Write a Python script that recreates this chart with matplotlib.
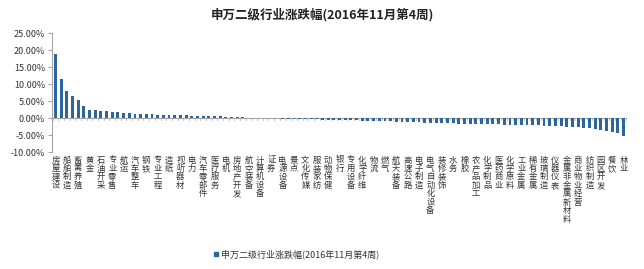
import matplotlib
matplotlib.use("Agg")
import matplotlib.pyplot as plt
from matplotlib.ticker import FuncFormatter
import numpy as np

plt.rcParams['font.family'] = ['Noto Sans CJK SC', 'DejaVu Sans']

title = "申万二级行业涨跌幅(2016年11月第4周)"

# labelled industries (every other bar carries a label)
labels = [
    "房屋建设", "船舶制造", "畜禽养殖", "黄金", "石油开采", "专业零售", "航运",
    "汽车整车", "钢铁", "专业工程", "造纸", "视听器材", "电力", "汽车零部件",
    "医疗服务", "电机", "房地产开发", "航空装备", "计算机设备", "证券",
    "电源设备", "景点", "文化传媒", "服装家纺", "动物保健", "银行", "专用设备",
    "化学纤维", "物流", "燃气", "航天装备", "高速公路", "电子制造",
    "电气自动化设备", "装修装饰", "水务", "橡胶", "农产品加工", "化学制品",
    "医药商业", "化学原料", "工业金属", "稀有金属", "玻璃制造", "仪器仪表",
    "金属非金属新材料", "商业物业经营", "纺织制造", "园区开发", "餐饮", "林业",
]

# weekly change, percent, for all 101 industries
values = [
    18.9, 11.5, 7.8, 6.6, 5.2, 3.5, 2.4, 2.3, 2.2, 2.0,
    1.8, 1.7, 1.5, 1.4, 1.3, 1.2, 1.15, 1.1, 1.0, 0.95,
    0.9, 0.85, 0.8, 0.78, 0.72, 0.68, 0.62, 0.58, 0.52, 0.48,
    0.4, 0.33, 0.25, 0.18, 0.1, 0.05, 0.02, -0.03, -0.08, -0.12,
    -0.18, -0.22, -0.26, -0.3, -0.35, -0.38, -0.42, -0.45, -0.5, -0.55,
    -0.58, -0.62, -0.66, -0.7, -0.74, -0.8, -0.85, -0.9, -0.96, -1.02,
    -1.08, -1.14, -1.2, -1.26, -1.32, -1.38, -1.42, -1.46, -1.5, -1.54,
    -1.58, -1.62, -1.66, -1.7, -1.74, -1.78, -1.82, -1.86, -1.9, -1.94,
    -1.98, -2.02, -2.06, -2.1, -2.15, -2.2, -2.25, -2.3, -2.35, -2.4,
    -2.5, -2.6, -2.7, -2.85, -3.0, -3.2, -3.5, -3.8, -4.0, -4.3, -5.2,
]

y_ticks = [-10, -5, 0, 5, 10, 15, 20, 25]
bar_color = "#2C65A0"
axis_color = "#A6A6A6"

fig = plt.figure(figsize=(6.44, 2.69), dpi=100)
ax = fig.add_axes([52 / 644, 1 - 152 / 269, 575 / 644, 119 / 269])

x = np.arange(len(values))
ax.bar(x, values, width=0.5, color=bar_color, zorder=3)

ax.set_xlim(-0.6, len(values) - 0.4)
ax.set_ylim(-10, 25)
ax.set_yticks(y_ticks)
ax.yaxis.set_major_formatter(FuncFormatter(lambda v, p: f"{v:.2f}%"))
ax.tick_params(axis='y', labelsize=6.5, length=3, color=axis_color,
               labelcolor="#333333", pad=2)

for s in ("top", "right", "bottom"):
    ax.spines[s].set_visible(False)
ax.spines["left"].set_color(axis_color)
ax.spines["left"].set_linewidth(0.8)

ax.axhline(0, color=axis_color, lw=0.8, zorder=2)
ax.set_xticks([])
# small category ticks below the zero line
for b in np.arange(len(values) + 1) - 0.5:
    ax.plot([b, b], [0, -0.6], color=axis_color, lw=0.5, zorder=2,
            clip_on=False)

# stacked vertical category labels
trans = ax.get_xaxis_transform()
for i, lab in enumerate(labels):
    ax.text(2 * i, -0.03, "\n".join(lab), transform=trans, ha="center",
            va="top", fontsize=6, linespacing=0.92, color="#333333")

fig.text(0.5, 1 - 15 / 269, title, ha="center", va="center", fontsize=9,
         fontweight="bold", color="#222222")

# legend entry
fig.patches.append(plt.Rectangle((214 / 644, 1 - 256 / 269), 4 / 644, 4 / 269,
                                 transform=fig.transFigure, color=bar_color))
fig.text(221 / 644, 1 - 254 / 269, title, ha="left", va="center",
         fontsize=6.5, color="#333333")

fig.savefig("out.png", dpi=100, facecolor="white")
